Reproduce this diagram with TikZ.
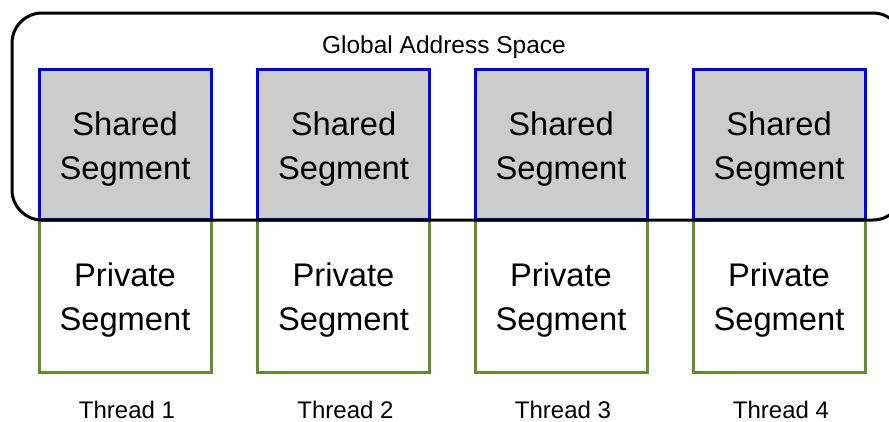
\documentclass[tikz,border=0pt]{standalone}
\usepackage{fontspec}
\setmainfont{Liberation Sans}
\definecolor{segblue}{RGB}{0,0,255}
\definecolor{seggreen}{RGB}{100,140,40}
\definecolor{seggray}{RGB}{204,204,204}
\begin{document}
\begin{tikzpicture}[x=1pt,y=-1pt,
  sharedbox/.style={draw=segblue,fill=seggray,line width=3pt,minimum width=172pt,minimum height=150pt,inner sep=0pt},
  privatebox/.style={draw=seggreen,fill=white,line width=3pt,minimum width=172pt,minimum height=152pt,inner sep=0pt},
  segtext/.style={align=center,inner sep=0pt,font=\fontsize{32.7}{44}\selectfont},
  threadlabel/.style={font=\fontsize{24}{28}\selectfont,inner sep=0pt},
  globalbox/.style={draw=black,line width=3pt,rounded corners=30pt}]
\useasboundingbox (0,0) rectangle (889,421);
\clip (0,0) rectangle (889,421);
\foreach \i/\cx in {1/125,2/343.5,3/561,4/779}{
  \node[sharedbox] (s\i) at (\cx,144) {};
  \node[segtext] (st\i) at (\cx,149) {Shared\\Segment};
  \node[privatebox] (p\i) at (\cx,296) {};
  \node[segtext] (pt\i) at (\cx,300) {Private\\Segment};
  \node[threadlabel] (t\i) at (\cx+2,410) {Thread \i};
}
\draw[globalbox] (12,13) rectangle (903,220);
\node[font=\fontsize{24.5}{28}\selectfont,inner sep=0pt] (g) at (444,47) {Global Address Space};
\end{tikzpicture}
\end{document}
